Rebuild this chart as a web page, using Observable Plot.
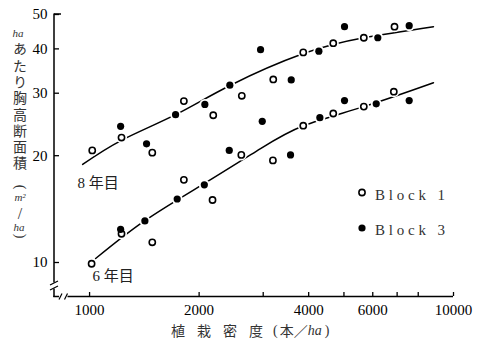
<!DOCTYPE html>
<html><head><meta charset="utf-8">
<script src="https://cdn.jsdelivr.net/npm/d3@7"></script>
<script src="https://cdn.jsdelivr.net/npm/@observablehq/plot@0.6"></script>
<style>html,body{margin:0;padding:0;background:#fff;}</style>
</head><body><div id="chart"></div>
<script>
// ---- data ----
const xDomain = [801, 10000];
const yDomain = [8.02, 50];
const xTicks = [1000, 2000, 3000, 4000, 5000, 6000, 7000, 8000, 10000];
const xTickLabels = [1000, 2000, 4000, 6000, 10000];
const yTicks = [10, 20, 30, 40, 50];

// Block 1 (open circles)
const b1Age8Density = [1017, 1224, 1487, 1816, 2187, 2620, 3197, 3865, 4673, 5670, 6885];
const b1Age8Area    = [20.7, 22.5, 20.4, 28.5, 26.0, 29.5, 32.8, 39.1, 41.5, 43.0, 46.2];
const b1Age6Density = [1013, 1224, 1487, 1816, 2177, 2612, 3190, 3865, 4673, 5670, 6855];
const b1Age6Area    = [9.92, 12.05, 11.4, 17.1, 15.0, 20.1, 19.4, 24.3, 26.3, 27.5, 30.3];
// Block 3 (filled circles)
const b3Age8Density = [1217, 1434, 1723, 2074, 2429, 2950, 3582, 4266, 5018, 6194, 7555];
const b3Age8Area    = [24.2, 21.6, 26.1, 27.9, 31.6, 39.8, 32.7, 39.4, 46.2, 43.0, 46.5];
const b3Age6Density = [1217, 1419, 1741, 2067, 2420, 2982, 3566, 4293, 5018, 6133, 7555];
const b3Age6Area    = [12.4, 13.1, 15.1, 16.55, 20.7, 25.0, 20.1, 25.6, 28.6, 28.0, 28.6];

// fitted curves
const fit8Density = [957, 1224, 1723, 2440, 3872, 5670, 8810];
const fit8Area    = [18.9, 22.1, 26.1, 31.6, 38.8, 43.0, 46.2];
const fit6Density = [1039, 1416, 2067, 2950, 3872, 5670, 8810];
const fit6Area    = [10.26, 13.1, 16.7, 20.95, 24.3, 27.5, 32.1];

// curve labels
const ageLabels = ["8 年目", "6 年目"];
const ageLabelDensity = [927, 1019];
const ageLabelArea = [16.7, 9.13];

const legendLabels = ["Block 1", "Block 3"];
const yTitle = "あたり胸高断面積";
const xTitleChars = ["植", "栽", "密", "度"];

// ---- build tables ----
const zip = (xs, ys) => xs.map((x, i) => ({x, y: ys[i]}));
const block1 = [...zip(b1Age8Density, b1Age8Area), ...zip(b1Age6Density, b1Age6Area)];
const block3 = [...zip(b3Age8Density, b3Age8Area), ...zip(b3Age6Density, b3Age6Area)];
const fit8 = zip(fit8Density, fit8Area);
const fit6 = zip(fit6Density, fit6Area);
const labels = ageLabels.map((t, i) => ({t, x: ageLabelDensity[i], y: ageLabelArea[i]}));

const FONT = "'Liberation Serif','DejaVu Serif','Noto Sans CJK JP',serif";
const CJK = "'Noto Sans CJK JP','Liberation Serif',serif";

const W = 484, H = 339, mL = 54, mR = 31, mT = 14, mB = 43;

const plot = Plot.plot({
  width: W, height: H,
  marginLeft: mL, marginRight: mR, marginTop: mT, marginBottom: mB,
  style: {fontFamily: FONT, fontSize: "15px", background: "white", color: "black"},
  x: {type: "log", domain: xDomain, label: null},
  y: {type: "log", domain: yDomain, label: null},
  marks: [
    Plot.axisX({ticks: xTickLabels, tickSize: 0, tickPadding: 8, tickFormat: d => String(d), label: null, fontSize: 15}),
    Plot.axisY({ticks: yTicks, tickSize: 0, tickPadding: 7, tickFormat: d => String(d), label: null, fontSize: 15}),
    Plot.tickX(xTicks, {x: d => d, insetTop: (H - mT - mB) - 4, stroke: "black", strokeWidth: 1.3}),
    Plot.tickY(yTicks, {y: d => d, insetRight: (W - mL - mR) - 5, stroke: "black", strokeWidth: 1.3}),
    Plot.line(fit8, {x: "x", y: "y", curve: "natural", stroke: "black", strokeWidth: 1.5}),
    Plot.line(fit6, {x: "x", y: "y", curve: "natural", stroke: "black", strokeWidth: 1.5}),
    Plot.dot([...block1, ...block3], {x: "x", y: "y", r: 5.5, fill: "white", stroke: "none"}),
    Plot.dot(block1, {x: "x", y: "y", r: 3.1, fill: "white", stroke: "black", strokeWidth: 1.6}),
    Plot.dot(block3, {x: "x", y: "y", r: 3.6, fill: "black", stroke: "none"}),
    Plot.text(labels, {x: "x", y: "y", text: "t", textAnchor: "start", fontSize: 15, fill: "#222"})
  ]
});

document.getElementById("chart").appendChild(plot);

// ---- axis lines with breaks, titles, legend ----
const svg = d3.select(plot);
const sx = plot.scale("x"), sy = plot.scale("y");
const xa = sx.apply(xDomain[0]), xb = sx.apply(xDomain[1]);
const ya = sy.apply(yDomain[0]), yb = sy.apply(yDomain[1]);
const g = svg.append("g").attr("stroke", "black").attr("fill", "none").attr("stroke-width", 1.5);
g.append("path").attr("d", `M${xa},${yb - 0.5}V${ya - 13.5}M${xa},${ya - 7.5}V${ya + 1}`);
g.append("path").attr("d", `M${xa - 0.7},${ya + 0.5}H${xa + 5}M${xa + 13.5},${ya + 0.5}H${xb}`);
g.append("path").attr("d", `M${xa},${yb}H${xa + 7}`);
// y break
g.append("path").attr("stroke-width", 1.2).attr("d",
  `M${xa - 4},${ya - 11}L${xa + 4},${ya - 15}M${xa - 4},${ya - 6}L${xa + 4},${ya - 10}`);
// x break
g.append("path").attr("stroke-width", 1.2).attr("d",
  `M${xa + 5},${ya + 3.5}L${xa + 8},${ya - 2.5}M${xa + 10.5},${ya + 3.5}L${xa + 13.5},${ya - 2.5}`);

// y title (vertical)
const yt = svg.append("g").attr("fill", "#333").attr("text-anchor", "middle").attr("dominant-baseline", "central");
yt.append("text").attr("x", 18).attr("y", 33).attr("font-family", FONT).attr("font-style", "italic")
  .attr("font-size", 11).text("ha");
yt.append("text").attr("x", 20).attr("y", 42).attr("text-anchor", "start")
  .attr("style", "writing-mode: vertical-rl; text-orientation: upright;")
  .attr("font-family", CJK).attr("font-size", 14).attr("letter-spacing", 2.3).text(yTitle);
yt.append("text").attr("transform", "translate(20,187) rotate(90)").attr("font-family", FONT)
  .attr("font-size", 14).text("(");
yt.append("text").attr("x", 20).attr("y", 197).attr("font-family", FONT).attr("font-style", "italic")
  .attr("font-size", 11).text("m²");
yt.append("text").attr("x", 20).attr("y", 213).attr("font-family", FONT).attr("font-size", 16).text("/");
yt.append("text").attr("x", 19).attr("y", 227).attr("font-family", FONT).attr("font-style", "italic")
  .attr("font-size", 11).text("ha");
yt.append("text").attr("transform", "translate(20,236) rotate(90)").attr("font-family", FONT)
  .attr("font-size", 14).text(")");

// x title
const xtg = svg.append("g").attr("fill", "#333").attr("font-size", 14).attr("text-anchor", "start")
  .attr("dominant-baseline", "central");
xTitleChars.forEach((c, i) => {
  xtg.append("text").attr("x", 171 + i * 26).attr("y", 330).attr("font-family", CJK).text(c);
});
const xt = xtg.append("text").attr("x", 273).attr("y", 330);
xt.append("tspan").attr("font-family", FONT).text("(");
xt.append("tspan").attr("font-family", CJK).attr("dx", 2).text("本／");
xt.append("tspan").attr("font-family", FONT).attr("font-style", "italic").text("ha");
xt.append("tspan").attr("font-family", FONT).attr("dx", 3).text(")");

// legend
const lg = svg.append("g");
legendLabels.forEach((t, i) => {
  const cy = 192.5 + i * 35.5;
  if (i === 0) lg.append("circle").attr("cx", 362).attr("cy", cy).attr("r", 3.1)
    .attr("fill", "white").attr("stroke", "black").attr("stroke-width", 1.6);
  else lg.append("circle").attr("cx", 362).attr("cy", cy).attr("r", 3.6).attr("fill", "black");
  lg.append("text").attr("x", 375).attr("y", cy + 2).attr("text-anchor", "start")
    .attr("dominant-baseline", "central")
    .attr("font-family", FONT).attr("font-size", 15).attr("letter-spacing", 3.8)
    .attr("fill", "#333").text(t);
});
</script>
</body></html>
